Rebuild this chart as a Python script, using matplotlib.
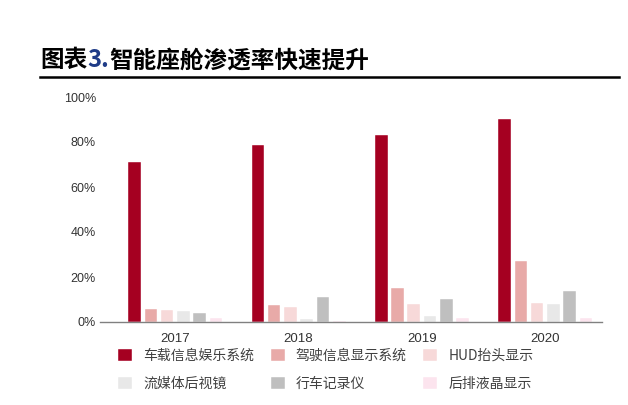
import numpy as np
import matplotlib
matplotlib.use("Agg")
import matplotlib.pyplot as plt
from matplotlib.lines import Line2D

plt.rcParams['font.family'] = ['Noto Sans CJK SC', 'DejaVu Sans']

years = ["2017", "2018", "2019", "2020"]
series_names = ["车载信息娱乐系统", "驾驶信息显示系统", "HUD抬头显示",
                "流媒体后视镜", "行车记录仪", "后排液晶显示"]
infotainment = [71, 78.7, 83, 90.3]
driver_display = [5.8, 7.4, 15.1, 27]
hud = [5.5, 6.8, 8, 8.4]
stream_mirror = [5, 1.3, 2.7, 8]
dash_cam = [3.9, 11.2, 10.2, 13.6]
rear_display = [1.9, 0.3, 1.9, 1.9]
colors = ["#A50021", "#E8AAA8", "#F7D9D9", "#E8E8E8", "#BFBFBF", "#FCE4EE"]

all_series = [infotainment, driver_display, hud, stream_mirror, dash_cam, rear_display]

fig = plt.figure(figsize=(6.28, 4.05), dpi=100)
ax = fig.add_axes([100 / 628, 1 - 322 / 405, 502 / 628, 225 / 405])

x = np.arange(len(years))
pitch = 0.132
width = 0.102
handles = []
for i, (vals, name, c) in enumerate(zip(all_series, series_names, colors)):
    b = ax.bar(x + (i - 2.5) * pitch, vals, width, color=c, label=name,
               edgecolor="white", linewidth=0.3)
    handles.append(b)

ax.set_xlim(-0.61, 3.46)
ax.set_ylim(0, 100)
ax.set_yticks(range(0, 101, 20))
ax.set_yticklabels([f"{v}%" for v in range(0, 101, 20)],
                   fontfamily="Liberation Sans", fontsize=9, color="#333333")
ax.set_xticks(x)
ax.set_xticklabels(years, fontfamily="Liberation Sans", fontsize=9.5, color="#333333")
ax.tick_params(length=0)
ax.tick_params(axis="y", pad=3)
ax.tick_params(axis="x", pad=8)
for s in ["left", "right", "top"]:
    ax.spines[s].set_visible(False)
ax.spines["bottom"].set_color("#808080")
ax.spines["bottom"].set_linewidth(1.0)

# legend fills column by column, reorder so it reads row by row
order = [0, 3, 1, 4, 2, 5]
leg = fig.legend(handles=[handles[i] for i in order],
                 labels=[series_names[i] for i in order], ncol=3,
                 loc="upper left", bbox_to_anchor=(118 / 628, 1 - 349 / 405),
                 frameon=False, fontsize=10, handlelength=1.0, handleheight=1.0,
                 handletextpad=0.8, columnspacing=1.2, labelspacing=1.0,
                 borderpad=0, borderaxespad=0)
for t in leg.get_texts():
    t.set_color("#404040")

# title in three pieces so "3." can be blue
fig.canvas.draw()
r = fig.canvas.get_renderer()
xpos = 40
parts = [("图表", "black"), ("3.", "#1F3C88"), ("智能座舱渗透率快速提升", "black")]
for s, c in parts:
    t = fig.text(xpos / 628, 1 - 60 / 405, s, fontsize=17, fontweight="bold",
                 color=c, va="center", ha="left")
    bb = t.get_window_extent(renderer=r)
    xpos += bb.width
fig.add_artist(Line2D([40 / 628, 619 / 628], [1 - 77 / 405, 1 - 77 / 405],
                      color="black", linewidth=1.8, transform=fig.transFigure))

fig.savefig("out.png", dpi=100)
